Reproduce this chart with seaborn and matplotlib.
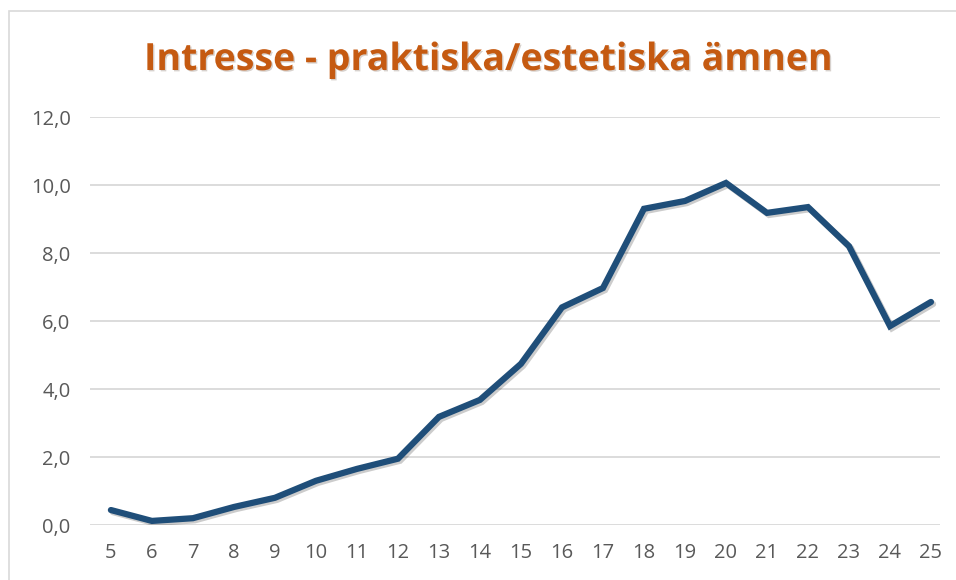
import matplotlib
matplotlib.use("Agg")
import matplotlib.pyplot as plt
import matplotlib.patheffects as pe
from matplotlib.ticker import FuncFormatter
import seaborn as sns
import pandas as pd

# data
ages = [5, 6, 7, 8, 9, 10, 11, 12, 13, 14, 15, 16, 17, 18, 19, 20, 21, 22, 23, 24, 25]
interest = [0.44, 0.12, 0.20, 0.53, 0.80, 1.30, 1.65, 1.95, 3.18, 3.68, 4.74,
            6.40, 6.97, 9.30, 9.53, 10.06, 9.18, 9.35, 8.20, 5.85, 6.56]
title = "Intresse - praktiska/estetiska ämnen"

df = pd.DataFrame({"age": ages, "value": interest})

sns.set_style("white")
plt.rcParams['font.family'] = ['Open Sans', 'DejaVu Sans']

fig = plt.figure(figsize=(9.56, 5.8), dpi=100)
ax = fig.add_axes([90 / 956, 1 - 525 / 580, 850 / 956, 408 / 580])

sns.lineplot(data=df, x="age", y="value", ax=ax, color="#1F4E79", linewidth=4.5,
             solid_capstyle="round", solid_joinstyle="miter",
             path_effects=[pe.SimpleLineShadow(offset=(1.5, -1.5), alpha=0.2, shadow_color="black"),
                           pe.Normal()])

ax.set_ylim(0, 12)
ax.set_xlim(4.49, 25.22)
ax.set_yticks([0, 2, 4, 6, 8, 10, 12])
ax.set_xticks(ages)
ax.yaxis.set_major_formatter(FuncFormatter(lambda v, p: f"{v:.1f}".replace(".", ",")))
ax.grid(axis="y", color="#D9D9D9", linewidth=1.3)
ax.set_axisbelow(True)
for s in ax.spines.values():
    s.set_visible(False)
ax.tick_params(axis="both", length=0, labelsize=14.5, labelcolor="#595959")
ax.tick_params(axis="y", pad=14)
ax.tick_params(axis="x", pad=13)
ax.set_xlabel("")
ax.set_ylabel("")

fig.text(488 / 956, 1 - 60 / 580, title, ha="center", va="center", fontsize=27,
         fontweight="bold", color="#C55A11",
         path_effects=[pe.withSimplePatchShadow(offset=(1, -1), alpha=0.2)])

# chart frame
fig.patches.append(plt.Rectangle((9 / 956, -0.1), 1.2, 1.1 - 11 / 580, transform=fig.transFigure,
                                 fill=False, edgecolor="#D9D9D9", linewidth=1.2))

fig.savefig("out.png", dpi=100)
